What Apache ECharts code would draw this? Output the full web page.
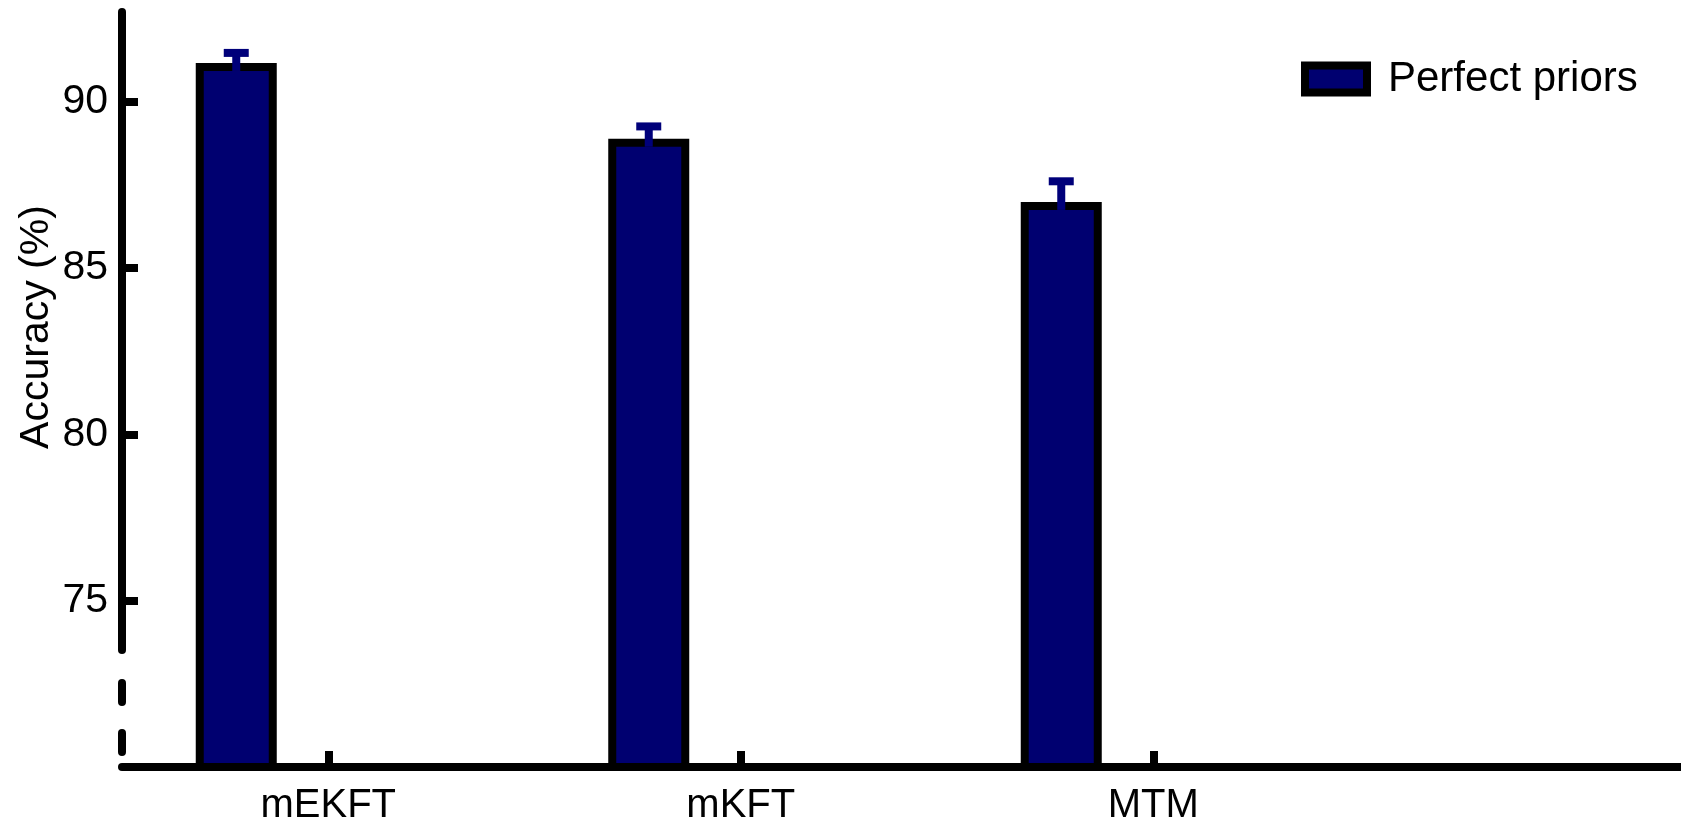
<!DOCTYPE html>
<html>
<head>
<meta charset="utf-8">
<script src="https://cdn.jsdelivr.net/npm/echarts@6/dist/echarts.min.js"></script>
<style>
html,body{margin:0;padding:0;background:#fff;}
#chart{width:1681px;height:822px;}
</style>
</head>
<body>
<div id="chart"></div>
<script>
// ---- data ----
const categories = ['mEKFT', 'mKFT', 'MTM'];
const seriesName = 'Perfect priors';
const accuracy = [91.17, 88.89, 86.99];
const errorUp = [0.30, 0.37, 0.62];
const yTicks = [75, 80, 85, 90];

// ---- style constants ----
const FONT = 'Liberation Sans, Arial, Helvetica, sans-serif';
const NAVY = '#000070';
const ERR = '#00007a';
const BAR_W = 81;
const BAR_GAP_PX = 103;
const BAR_SHIFT = -(BAR_W + BAR_GAP_PX) / 2;
const LW = 8;

const chart = echarts.init(document.getElementById('chart'));

const errData = categories.map((c, i) => [i, accuracy[i], errorUp[i]]);

chart.setOption({
  animation: false,
  backgroundColor: '#fff',
  grid: [
    { left: 122, top: 12, right: -91, height: 755, outerBoundsMode: 'none', containLabel: false },
    { left: 122, top: 12, width: 10, height: 638, outerBoundsMode: 'none' },
    { left: 122, top: 683, width: 10, height: 69, outerBoundsMode: 'none' }
  ],
  legend: {
    data: [seriesName],
    left: 1296,
    top: 53,
    icon: 'rect',
    itemWidth: 62,
    itemHeight: 27,
    itemStyle: { borderWidth: LW, borderColor: '#000' },
    textStyle: { fontFamily: FONT, fontSize: 42, color: '#000', padding: [0, 0, 0, 16] }
  },
  xAxis: [
    {
      type: 'category',
      gridIndex: 0,
      data: categories,
      max: 3,
      boundaryGap: true,
      axisLine: { show: true, lineStyle: { color: '#000', width: LW } },
      axisTick: {
        show: true, inside: true, length: 16, alignWithLabel: true,
        interval: (idx) => idx < categories.length,
        lineStyle: { color: '#000', width: LW }
      },
      axisLabel: {
        show: true, margin: 19, color: '#000', fontFamily: FONT, fontSize: 40,
        interval: 0,
        formatter: (v) => (categories.indexOf(v) >= 0 ? v : '')
      },
      splitLine: { show: false }
    },
    { type: 'value', gridIndex: 1, show: false, min: 0, max: 1 },
    { type: 'value', gridIndex: 2, show: false, min: 0, max: 1 }
  ],
  yAxis: [
    {
      type: 'value',
      gridIndex: 0,
      min: 70,
      max: 92.7,
      interval: 5,
      axisLine: { show: false },
      axisTick: {
        show: true, inside: true, length: 16, customValues: yTicks,
        lineStyle: { color: '#000', width: LW }
      },
      axisLabel: {
        show: true, margin: 14, color: '#000', fontFamily: FONT, fontSize: 41,
        customValues: yTicks
      },
      splitLine: { show: false }
    },
    {
      type: 'value',
      gridIndex: 1,
      min: 0, max: 1,
      name: 'Accuracy (%)',
      nameLocation: 'middle',
      nameGap: 65,
      nameTextStyle: { fontFamily: FONT, fontSize: 41, color: '#000', padding: [0, 0, 0, 8] },
      axisLine: { show: true, lineStyle: { color: '#000', width: LW } },
      axisTick: { show: false },
      axisLabel: { show: false },
      splitLine: { show: false }
    },
    {
      type: 'value',
      gridIndex: 2,
      min: 0, max: 1,
      axisLine: { show: true, lineStyle: { color: '#000', width: LW, type: [19, 31] } },
      axisTick: { show: false },
      axisLabel: { show: false },
      splitLine: { show: false }
    }
  ],
  series: [
    {
      name: seriesName,
      type: 'bar',
      xAxisIndex: 0,
      yAxisIndex: 0,
      data: accuracy,
      barWidth: BAR_W,
      barGap: (BAR_GAP_PX / BAR_W * 100) + '%',
      itemStyle: { color: NAVY, borderColor: '#000', borderWidth: LW },
      emphasis: { disabled: true },
      z: 2
    },
    {
      name: 'hidden group',
      type: 'bar',
      xAxisIndex: 0,
      yAxisIndex: 0,
      data: [],
      barWidth: BAR_W
    },
    {
      type: 'custom',
      xAxisIndex: 0,
      yAxisIndex: 0,
      data: errData,
      encode: { x: 0, y: 1 },
      z: 5,
      renderItem: function (params, api) {
        const i = api.value(0);
        const v = api.value(1);
        const e = api.value(2);
        const base = api.coord([i, v]);
        const top = api.coord([i, v + e]);
        const x = base[0] + BAR_SHIFT;
        const style = { stroke: ERR, lineWidth: LW, fill: null };
        return {
          type: 'group',
          children: [
            { type: 'line', shape: { x1: x, y1: base[1] + LW, x2: x, y2: top[1] }, style: style },
            { type: 'line', shape: { x1: x - 12.5, y1: top[1], x2: x + 12.5, y2: top[1] }, style: style }
          ]
        };
      }
    }
  ]
});
</script>
</body>
</html>
